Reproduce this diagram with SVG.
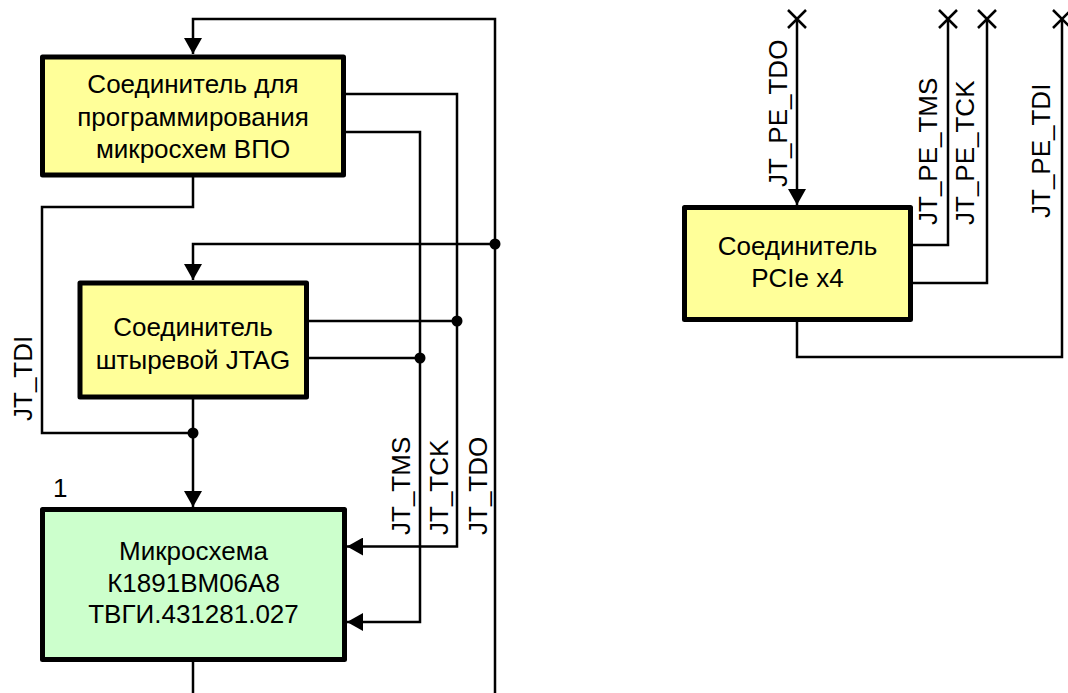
<svg xmlns="http://www.w3.org/2000/svg" width="1068" height="693" viewBox="0 0 1068 693">
<style>
.box{stroke:#000;stroke-width:5;stroke-linejoin:round}
.y{fill:#FFFF99}
.g{fill:#CCFFCC}
.t{font-family:"Liberation Sans",Arial,sans-serif;font-size:26px;fill:#000}
.c{text-anchor:middle}
.w{fill:none;stroke:#000;stroke-width:2.5}
.a{marker-end:url(#arr)}
.x{fill:none;stroke:#000;stroke-width:2.5}
</style>
<defs>
<marker id="arr" viewBox="0 0 16 18" refX="16" refY="9" markerWidth="16" markerHeight="18" markerUnits="userSpaceOnUse" orient="auto">
<path d="M0,0 L16,9 L0,18 Z" fill="#000"/>
</marker>
</defs>
<g id="connectors">
<path class="w a" d="M495,693 V19 H193 V54"/>
<path class="w" d="M345,94 H457 V546.5 H347" marker-end="url(#arr)"/>
<path class="w" d="M345,132 H420 V622 H347" marker-end="url(#arr)"/>
<path class="w" d="M193,177 V207 H42 V433 H193"/>
<path class="w a" d="M495,244 H193 V280"/>
<path class="w" d="M309,321 H457"/>
<path class="w" d="M309,358 H420"/>
<path class="w a" d="M193,399 V507"/>
<path class="w" d="M193,662 V693"/>
<circle cx="495" cy="244" r="5.5"/>
<circle cx="457" cy="321" r="5.5"/>
<circle cx="420" cy="358" r="5.5"/>
<circle cx="193" cy="433" r="5.5"/>
<path class="w a" d="M797,19 V205"/>
<path class="w" d="M913,245 H948 V19"/>
<path class="w" d="M913,283 H987 V19"/>
<path class="w" d="M797,322 V357 H1062 V19"/>
<path class="x" d="M788,10 L806,28 M806,10 L788,28"/>
<path class="x" d="M939,10 L957,28 M957,10 L939,28"/>
<path class="x" d="M978,10 L996,28 M996,10 L978,28"/>
<path class="x" d="M1053,10 L1071,28 M1071,10 L1053,28"/>
</g>
<g id="labels">
<text class="t" transform="translate(32,421) rotate(-90)">JT_TDI</text>
<text class="t" transform="translate(410,535) rotate(-90)">JT_TMS</text>
<text class="t" transform="translate(448,535) rotate(-90)">JT_TCK</text>
<text class="t" transform="translate(487,535) rotate(-90)">JT_TDO</text>
<text class="t" transform="translate(787,187) rotate(-90)">JT_PE_TDO</text>
<text class="t" transform="translate(937,225) rotate(-90)">JT_PE_TMS</text>
<text class="t" transform="translate(974,225) rotate(-90)">JT_PE_TCK</text>
<text class="t" transform="translate(1050,218) rotate(-90)">JT_PE_TDI</text>
<text class="t" x="53" y="497">1</text>
</g>
<g id="node-vpo">
<rect class="box y" x="42.5" y="57" width="301" height="118"/>
<text class="t c" x="193" y="93">Соединитель для</text>
<text class="t c" x="193" y="125.5">программирования</text>
<text class="t c" x="193" y="158">микросхем ВПО</text>
</g>
<g id="node-jtag">
<rect class="box y" x="80" y="283" width="226.5" height="114"/>
<text class="t c" x="193" y="336">Соединитель</text>
<text class="t c" x="193" y="369">штыревой JTAG</text>
</g>
<g id="node-chip">
<rect class="box g" x="42.5" y="509.5" width="302" height="150"/>
<text class="t c" x="193.5" y="560">Микросхема</text>
<text class="t c" x="193.5" y="591.5">К1891ВМ06А8</text>
<text class="t c" x="193.5" y="623">ТВГИ.431281.027</text>
</g>
<g id="node-pcie">
<rect class="box y" x="684.5" y="207.5" width="226" height="112"/>
<text class="t c" x="797.5" y="255">Соединитель</text>
<text class="t c" x="797.5" y="286.5">PCIe x4</text>
</g>
</svg>
